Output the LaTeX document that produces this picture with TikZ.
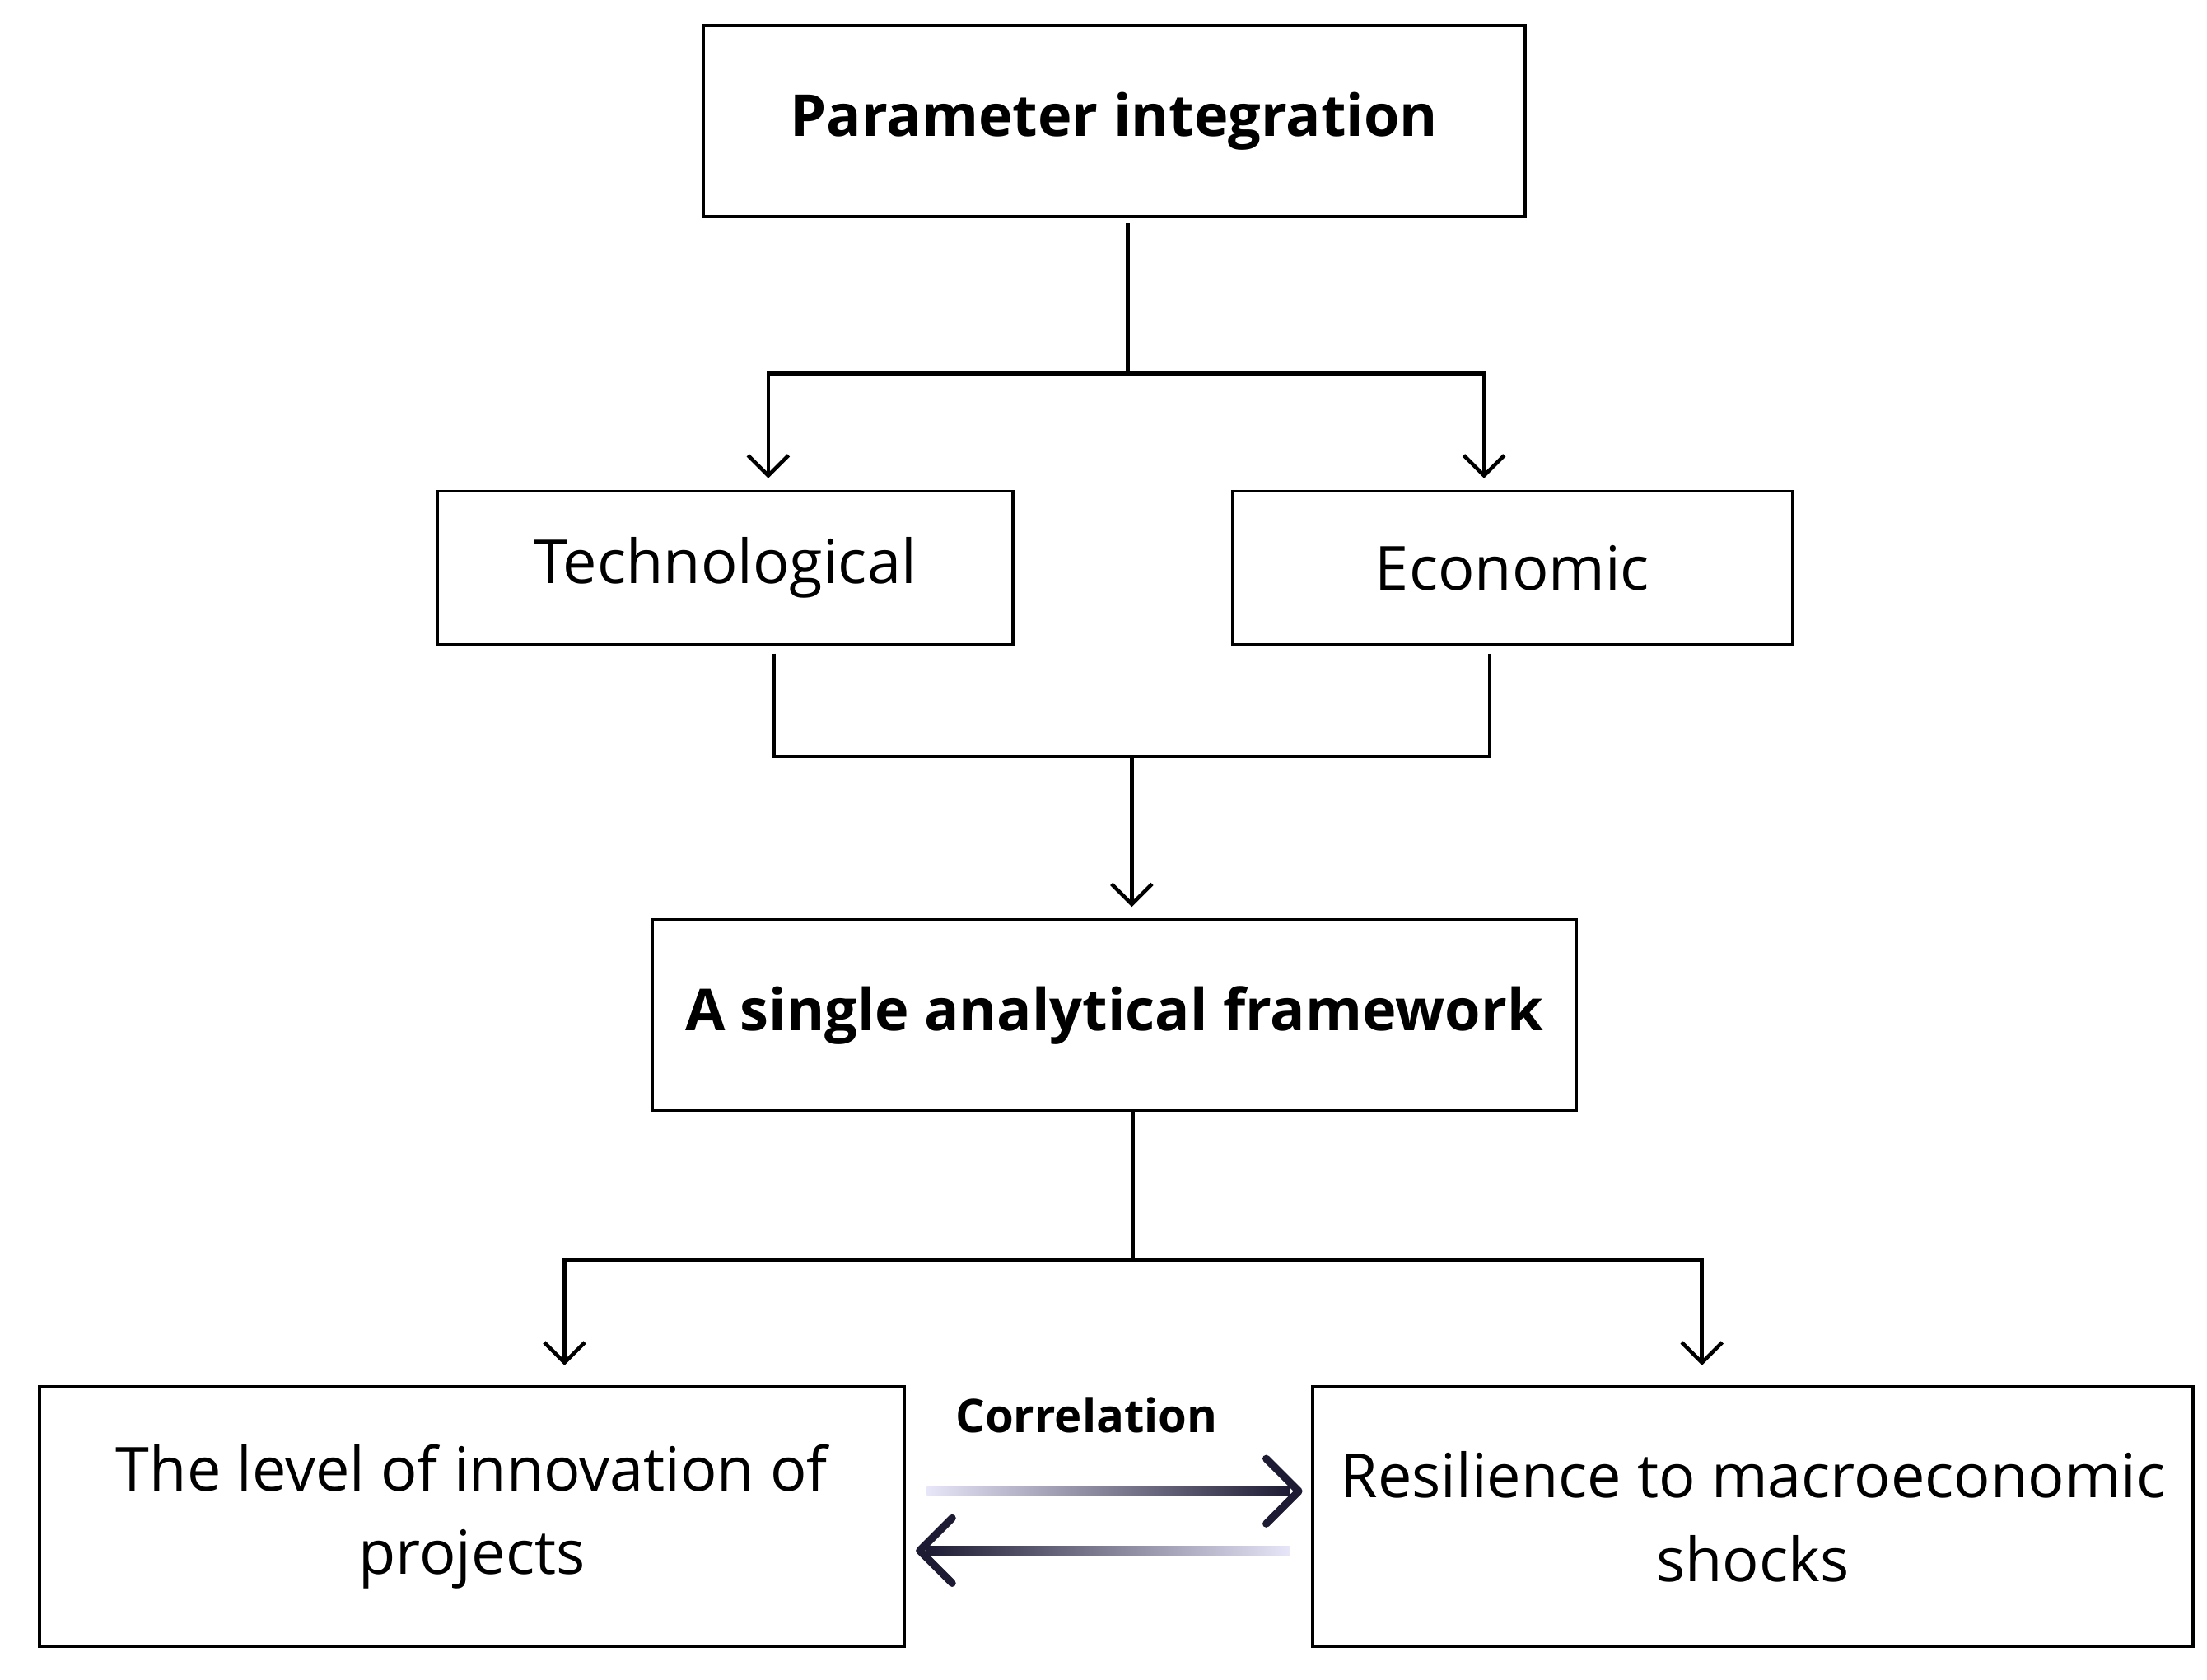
\documentclass[tikz,border=0pt]{standalone}
\usepackage{fontspec}
\setmainfont{Open Sans}
\usetikzlibrary{arrows.meta}
\definecolor{navy}{HTML}{1C1B33}
\definecolor{lav}{HTML}{D8D6F5}
\begin{document}
\begin{tikzpicture}[x=0.01718cm,y=-0.01718cm,
  box/.style={draw,line width=1pt,inner sep=0pt,font=\fontsize{21}{29}\selectfont,align=center},
  bb/.style={font=\fontsize{20}{28}\selectfont\bfseries},
  ln/.style={line width=1.3pt},
  ar/.style={ln,-{Straight Barb[length=7pt,width=14pt,line width=1.3pt]}}]
\useasboundingbox (0,0) rectangle (1560,1187);
\node[box,bb,minimum width=9.98cm,minimum height=2.32cm] (pi) at (787.5,85.5) {Parameter integration};
\node[box,minimum width=6.99cm,minimum height=1.87cm] (te) at (512.5,401.5) {Technological};
\node[box,minimum width=6.80cm,minimum height=1.87cm] (ec) at (1069,401.5) {Economic};
\node[box,bb,minimum width=11.22cm,minimum height=2.32cm] (fw) at (787.5,717.5) {A single analytical framework};
\node[box,minimum width=10.50cm,minimum height=3.16cm] (lv) at (333.5,1072) {The level of innovation of\\projects};
\node[box,minimum width=10.69cm,minimum height=3.16cm] (rs) at (1239,1072) {Resilience to macroeconomic\\shocks};
\coordinate (j1) at (797,264);
\draw[ln] (797,158) -- (j1);
\draw[ar] (j1) -| (543,338);
\draw[ar] (j1) -| (1049,338);
\draw[ln] (547,462) |- (800,535) -| (1053,462);
\draw[ar] (800,535) -- (800,641);
\coordinate (j2) at (801,891);
\draw[ln] (fw.south -| j2) -- (j2);
\draw[ar] (j2) -| (399,965);
\draw[ar] (j2) -| (1203,965);
\node[font=\fontsize{16}{20}\selectfont\bfseries] (co) at (768,1000) {Correlation};
\shade[left color=lav!60,right color=navy] (655,1051) rectangle (912,1057);
\shade[left color=navy,right color=lav!60] (655,1093) rectangle (912,1099);
\draw[navy,line width=2.6pt,line cap=round,line join=round] (895,1031) -- (918,1054) -- (895,1077);
\draw[navy,line width=2.6pt,line cap=round,line join=round] (673,1073) -- (650,1096) -- (673,1119);
\end{tikzpicture}
\end{document}
